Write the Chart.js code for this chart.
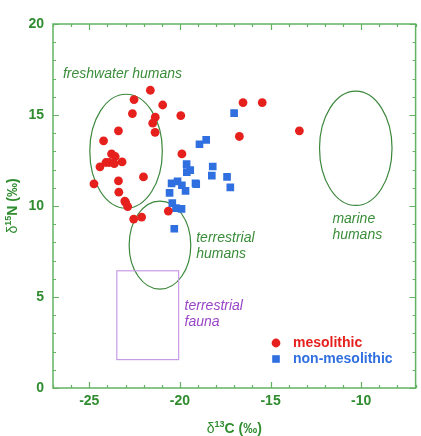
<!DOCTYPE html>
<html>
<head>
<meta charset="utf-8">
<script src="https://cdn.jsdelivr.net/npm/chart.js@4.4.1/dist/chart.umd.min.js"></script>
<style>
html, body { margin: 0; padding: 0; background: #fff; }
#wrap { width: 421px; height: 436px; position: relative; }
</style>
</head>
<body>
<div id="wrap"><canvas id="graph"></canvas></div>
<script>
// d13C / d15N values
const mesoC = [-21.63, -22.53, -20.95, -22.62, -21.36, -19.95, -21.50, -21.37, -23.39, -24.21,
    -23.77, -23.57, -23.19, -24.08, -23.90, -23.62, -24.41, -24.74, -23.39, -22.01,
    -23.37, -23.04, -22.99, -22.88, -22.55, -22.11, -20.64, -19.89, -16.52, -15.46,
    -16.72, -13.41];
const mesoN = [16.36, 15.85, 15.55, 15.08, 14.88, 14.97, 14.55, 14.05, 14.13, 13.58,
    12.86, 12.72, 12.42, 12.39, 12.39, 12.33, 12.15, 11.22, 11.38, 11.60,
    10.76, 10.27, 10.19, 9.97, 9.28, 9.39, 9.72, 12.86, 15.68, 15.68,
    13.82, 14.13];
const nonMesoC = [-17.01, -18.92, -18.55, -19.63, -19.43, -19.62, -18.19, -18.24, -17.40, -17.22,
    -19.14, -19.10, -20.46, -20.13, -19.89, -19.69, -20.57, -20.42, -20.22, -19.91,
    -20.31];
const nonMesoN = [15.10, 13.39, 13.63, 12.30, 11.97, 11.86, 12.17, 11.67, 11.60, 11.02,
    11.25, 11.20, 11.24, 11.35, 11.14, 10.83, 10.72, 10.16, 9.88, 9.84,
    8.75];

const seriesNames = ['mesolithic', 'non-mesolithic'];
const xTicks = [-25, -20, -15, -10];
const yTicks = [0, 5, 10, 15, 20];

// reference ranges (ellipses) in data units
const zoneNames = ['freshwater', 'terrestrial', 'marine'];
const zoneCx = [-22.97, -21.10, -10.30];
const zoneCy = [13.01, 7.85, 13.17];
const zoneRx = [2.0, 1.70, 2.0];
const zoneRy = [3.13, 2.42, 3.14];

// terrestrial fauna box
const faunaC = [-23.48, -20.07];
const faunaN = [1.56, 6.44];

// text labels placed in data units
const noteTexts = ['freshwater humans', 'terrestrial', 'humans', 'marine', 'humans', 'terrestrial', 'fauna'];
const noteC = [-26.45, -19.1, -19.1, -11.59, -11.59, -19.74, -19.74];
const noteN = [17.25, 8.26, 7.38, 9.3, 8.4, 4.48, 3.6];
const notePurple = [false, false, false, false, false, true, true];

const FONT = "'Liberation Sans', Arial, sans-serif";
const GREEN_TXT = '#2f8c2f';
const FRAME = '#62b262';
const RED = '#e5201d';
const BLUE = '#2f6fe0';

function toPoints(xs, ys) {
    return xs.map((x, i) => ({x: x, y: ys[i]}));
}

const decorPlugin = {
    id: 'decor',
    beforeDatasetsDraw(chart) {
        const ctx = chart.ctx;
        const xs = chart.scales.x, ys = chart.scales.y;
        ctx.save();
        // ellipses
        ctx.strokeStyle = '#3b873b';
        ctx.lineWidth = 1.2;
        zoneNames.forEach((n, i) => {
            const cx = xs.getPixelForValue(zoneCx[i]);
            const cy = ys.getPixelForValue(zoneCy[i]);
            const rx = Math.abs(xs.getPixelForValue(zoneCx[i] + zoneRx[i]) - cx);
            const ry = Math.abs(ys.getPixelForValue(zoneCy[i] + zoneRy[i]) - cy);
            ctx.beginPath();
            ctx.ellipse(cx, cy, rx, ry, 0, 0, Math.PI * 2);
            ctx.stroke();
        });
        // fauna box
        ctx.strokeStyle = '#c99be6';
        const x0 = xs.getPixelForValue(faunaC[0]), x1 = xs.getPixelForValue(faunaC[1]);
        const y0 = ys.getPixelForValue(faunaN[1]), y1 = ys.getPixelForValue(faunaN[0]);
        ctx.strokeRect(x0, y0, x1 - x0, y1 - y0);
        // labels
        ctx.font = 'italic 14px ' + FONT;
        ctx.textBaseline = 'middle';
        ctx.textAlign = 'left';
        noteTexts.forEach((t, i) => {
            ctx.fillStyle = notePurple[i] ? '#9a45c6' : '#3a8d3a';
            ctx.fillText(t, xs.getPixelForValue(noteC[i]), ys.getPixelForValue(noteN[i]));
        });
        ctx.restore();
    },
    afterDraw(chart) {
        const ctx = chart.ctx;
        const a = chart.chartArea;
        const xs = chart.scales.x, ys = chart.scales.y;
        ctx.save();
        // frame
        ctx.strokeStyle = FRAME;
        ctx.lineWidth = 1.5;
        ctx.strokeRect(a.left, a.top, a.right - a.left, a.bottom - a.top);
        // inward ticks on all four sides
        ctx.lineWidth = 1.2;
        ctx.beginPath();
        for (let v = Math.ceil(xs.min); v <= xs.max; v++) {
            const p = Math.round(xs.getPixelForValue(v)) + 0.5;
            const len = v % 5 === 0 ? 6 : 3;
            ctx.moveTo(p, a.bottom); ctx.lineTo(p, a.bottom - len);
            ctx.moveTo(p, a.top); ctx.lineTo(p, a.top + len);
        }
        for (let v = Math.ceil(ys.min); v <= ys.max; v++) {
            const p = Math.round(ys.getPixelForValue(v)) + 0.5;
            const len = v % 5 === 0 ? 6 : 3;
            ctx.moveTo(a.left, p); ctx.lineTo(a.left + len, p);
            ctx.moveTo(a.right, p); ctx.lineTo(a.right - len, p);
        }
        ctx.stroke();

        // legend
        const lx = a.left + 223, ly = a.top + 319;
        ctx.fillStyle = RED;
        ctx.beginPath();
        ctx.arc(lx, ly, 4.4, 0, Math.PI * 2);
        ctx.fill();
        ctx.fillStyle = BLUE;
        ctx.fillRect(lx - 3.8, ly + 16 - 3.8, 7.6, 7.6);
        ctx.font = 'bold 14px ' + FONT;
        ctx.textBaseline = 'middle';
        ctx.textAlign = 'left';
        ctx.fillStyle = RED;
        ctx.fillText(seriesNames[0], lx + 17, ly);
        ctx.fillStyle = BLUE;
        ctx.fillText(seriesNames[1], lx + 17, ly + 16);

        // axis titles
        ctx.fillStyle = GREEN_TXT;
        ctx.textBaseline = 'alphabetic';
        drawTitle(ctx, (a.left + a.right) / 2, 433, '13', 'C (\u2030)');
        ctx.save();
        ctx.translate(17, (a.top + a.bottom) / 2);
        ctx.rotate(-Math.PI / 2);
        drawTitle(ctx, 0, 0, '15', 'N (\u2030)');
        ctx.restore();
        ctx.restore();
    }
};

function drawTitle(ctx, cx, base, sup, rest) {
    const f1 = '14px ' + FONT, f2 = 'bold 9px ' + FONT, f3 = 'bold 14px ' + FONT;
    ctx.font = f1; const w1 = ctx.measureText('\u03b4').width;
    ctx.font = f2; const w2 = ctx.measureText(sup).width;
    ctx.font = f3; const w3 = ctx.measureText(rest).width;
    let x = cx - (w1 + w2 + w3) / 2;
    ctx.textAlign = 'left';
    ctx.font = f1; ctx.fillText('\u03b4', x, base); x += w1;
    ctx.font = f2; ctx.fillText(sup, x, base - 6); x += w2;
    ctx.font = f3; ctx.fillText(rest, x, base);
}

const chart = new Chart(document.getElementById('graph'), {
    type: 'scatter',
    data: {
        datasets: [{
            label: seriesNames[0],
            data: toPoints(mesoC, mesoN),
            pointStyle: 'circle',
            pointRadius: 4.4,
            pointBackgroundColor: RED,
            pointBorderWidth: 0
        }, {
            label: seriesNames[1],
            data: toPoints(nonMesoC, nonMesoN),
            pointStyle: 'rect',
            pointRadius: 5.4,
            pointBackgroundColor: BLUE,
            pointBorderWidth: 0
        }]
    },
    options: {
        responsive: true,
        maintainAspectRatio: false,
        animation: false,
        events: [],
        layout: {padding: {top: 24, right: 1, left: 0, bottom: 0}},
        plugins: {
            legend: {display: false},
            tooltip: {enabled: false}
        },
        scales: {
            x: {
                type: 'linear',
                min: -27,
                max: -7,
                grid: {display: false, drawTicks: false},
                border: {display: false},
                afterBuildTicks: (s) => { s.ticks = xTicks.map(v => ({value: v})); },
                afterFit: (s) => { s.height = 48; },
                ticks: {
                    padding: 5,
                    color: GREEN_TXT,
                    font: {family: FONT, size: 14, weight: 'bold'}
                }
            },
            y: {
                type: 'linear',
                min: 0,
                max: 20,
                grid: {display: false, drawTicks: false},
                border: {display: false},
                afterBuildTicks: (s) => { s.ticks = yTicks.map(v => ({value: v})); },
                afterFit: (s) => { s.width = 53; },
                ticks: {
                    padding: 9,
                    color: GREEN_TXT,
                    font: {family: FONT, size: 14, weight: 'bold'}
                }
            }
        }
    },
    plugins: [decorPlugin]
});
</script>
</body>
</html>
